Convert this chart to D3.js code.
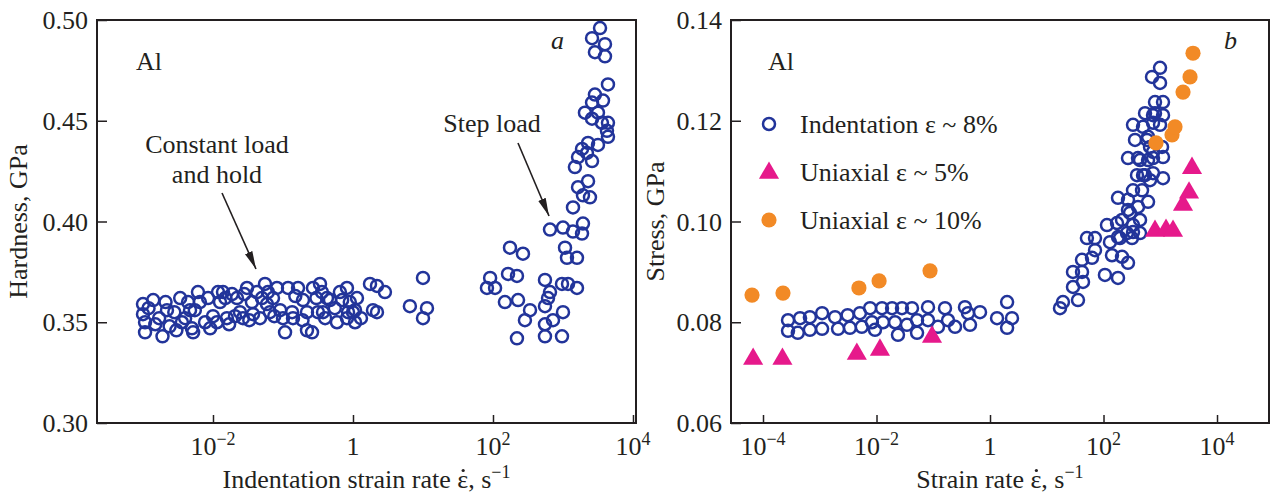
<!DOCTYPE html>
<html>
<head>
<meta charset="utf-8">
<script src="https://cdn.jsdelivr.net/npm/d3@7"></script>
<style>
  html, body { margin: 0; padding: 0; background: #fff; }
  svg { display: block; }
  text { font-family: "Liberation Serif", "Times New Roman", serif; fill: #231f20; }
</style>
</head>
<body>
<svg id="chart" width="1271" height="493"></svg>
<script>
// ---- Panel a: hardness of Al vs indentation strain rate ----
const constantLoad = [
  [1.0e-3,0.359],[1.0e-3,0.354],[1.07e-3,0.350],[1.07e-3,0.345],[1.2e-3,0.357],[1.4e-3,0.361],
  [1.5e-3,0.349],[1.7e-3,0.352],[1.9e-3,0.343],[2.1e-3,0.360],[2.2e-3,0.356],[2.4e-3,0.348],
  [2.8e-3,0.355],[3.0e-3,0.346],[3.4e-3,0.362],[3.6e-3,0.350],[4.0e-3,0.352],[4.4e-3,0.360],
  [4.7e-3,0.356],[5.0e-3,0.347],[5.2e-3,0.345],[5.5e-3,0.356],[6.1e-3,0.365],[6.5e-3,0.360],
  [7.7e-3,0.350],[8.5e-3,0.362],[9.1e-3,0.347],[0.010,0.353],[0.0114,0.350],[0.0118,0.365],
  [0.0126,0.360],[0.0139,0.365],[0.015,0.362],[0.0158,0.352],[0.017,0.349],[0.0187,0.364],
  [0.0206,0.353],[0.022,0.362],[0.0243,0.355],[0.0268,0.352],[0.028,0.364],[0.0306,0.367],
  [0.033,0.351],[0.036,0.360],[0.0373,0.354],[0.0425,0.365],[0.0469,0.352],[0.05,0.362],
  [0.0553,0.369],[0.059,0.359],[0.061,0.365],[0.065,0.355],[0.072,0.362],[0.075,0.353],
  [0.082,0.367],[0.091,0.356],[0.1,0.352],[0.107,0.345],[0.118,0.367],[0.135,0.355],
  [0.139,0.352],[0.15,0.363],[0.164,0.367],[0.19,0.351],[0.193,0.361],[0.22,0.355],
  [0.22,0.346],[0.26,0.345],[0.268,0.367],[0.3,0.362],[0.316,0.355],[0.338,0.369],
  [0.36,0.365],[0.373,0.355],[0.4,0.352],[0.425,0.362],[0.469,0.361],[0.55,0.357],
  [0.59,0.350],[0.65,0.365],[0.70,0.361],[0.82,0.367],[0.82,0.352],[0.85,0.355],
  [0.9,0.360],[1.0,0.355],[1.07,0.350],[1.07,0.356],[1.14,0.362],[1.3,0.352],
  [1.75,0.369],[1.93,0.356],[2.2,0.368],[2.2,0.355],[2.86,0.365],[6.5,0.358],
  [10,0.372],[10,0.352],[11.4,0.357]
];
const stepLoad = [
  [82,0.367],[91,0.372],[107,0.367],[148,0.360],[164,0.374],[175,0.387],[220,0.373],
  [228,0.361],[268,0.384],[286,0.351],[338,0.356],[220,0.342],[553,0.371],[652,0.365],
  [553,0.358],[968,0.369],[1000,0.355],[720,0.351],[553,0.349],[553,0.343],[968,0.343],
  [611,0.362],[652,0.396],[1000,0.397],[1069,0.387],[1140,0.382],[1585,0.382],[1180,0.369],
  [1585,0.367],[1930,0.399],[1390,0.395],[1870,0.394],[1390,0.407],[1930,0.413],[2430,0.412],
  [1640,0.417],[2280,0.420],[1480,0.427],[2600,0.430],[1640,0.432],[2200,0.434],[1870,0.436],
  [3160,0.438],[2280,0.439],[4390,0.442],[4250,0.445],[3600,0.449],[4390,0.449],[2600,0.451],
  [2060,0.454],[3160,0.454],[2600,0.459],[3730,0.460],[2860,0.463],[4390,0.468],[3980,0.482],
  [2860,0.484],[3980,0.488],[2600,0.491],[3380,0.496]
];
const hardnessTicks = [0.30, 0.35, 0.40, 0.45, 0.50];
const rateTicksA = [1e-2, 1, 1e2, 1e4];

// ---- Panel b: flow stress of Al vs strain rate ----
const indentation8 = [
  [2.76e-4,0.0804],[2.76e-4,0.0783],[4.5e-4,0.0808],[4.1e-4,0.0779],[6.7e-4,0.0810],[6.7e-4,0.0785],
  [1.1e-3,0.0818],[1.1e-3,0.0787],[1.86e-3,0.0810],[2.1e-3,0.0787],[3.1e-3,0.0814],[3.4e-3,0.0789],
  [5.1e-3,0.0818],[5.5e-3,0.0791],[7.7e-3,0.0828],[8.3e-3,0.0800],[9.4e-3,0.0785],[0.0125,0.0828],
  [0.013,0.0800],[0.0188,0.0828],[0.0212,0.0800],[0.0239,0.0775],[0.0281,0.0828],[0.0344,0.0795],
  [0.0422,0.0828],[0.0518,0.0804],[0.0518,0.0779],[0.0808,0.0830],[0.0808,0.0804],[0.121,0.0791],
  [0.161,0.0828],[0.182,0.0804],[0.242,0.0791],[0.362,0.0830],[0.41,0.0818],[0.444,0.0795],
  [0.667,0.0820],[1.33,0.0808],[2.0,0.0840],[2.44,0.0808],[2.0,0.0789],
  [17.1,0.0828],[19.3,0.0840],[35.5,0.0844],[29,0.0870],[29,0.0900],[41.8,0.0900],[43.5,0.0880],
  [41.8,0.0924],[62.7,0.0928],[51,0.0967],[70.8,0.0943],[70.8,0.0967],[106,0.0894],[180,0.0888],
  [115,0.0993],[130,0.0959],[141,0.0933],[212,0.0930],[270,0.0918],[180,0.0969],[195,0.0967],
  [173,0.0997],[212,0.1003],[293,0.1017],[180,0.1047],[270,0.1023],[270,0.1043],[331,0.0993],
  [259,0.0977],[331,0.0979],[318,0.0967],[440,0.0977],[440,0.1003],[405,0.1029],[609,0.1039],
  [331,0.1062],[477,0.1062],[389,0.1092],[497,0.1092],[539,0.1092],[745,0.1096],[660,0.1082],
  [1118,0.1086],[270,0.1126],[405,0.1126],[440,0.1122],[609,0.1122],[745,0.1126],[1118,0.1128],
  [745,0.1138],[660,0.1148],[1074,0.1148],[359,0.1162],[585,0.1162],[609,0.1168],[331,0.1192],
  [497,0.1188],[745,0.1196],[990,0.1192],[539,0.1215],[745,0.1211],[808,0.1215],[1118,0.1211],
  [808,0.1237],[1118,0.1237],[990,0.1275],[716,0.1287],[990,0.1305]
];
const uniaxial5 = [
  [6.7e-5,0.0727],[2.2e-4,0.0727],[4.5e-3,0.0737],[0.0115,0.0745],[0.095,0.0771],
  [808,0.0981],[1263,0.0983],[1678,0.0981],[2517,0.1033],[3213,0.1057],[3625,0.1106]
];
const uniaxial10 = [
  [6.4e-5,0.0854],[2.25e-4,0.0858],[4.9e-3,0.0868],[0.0111,0.0882],[0.0877,0.0902],
  [841,0.1156],[1611,0.1172],[1820,0.1188],[2517,0.1257],[3345,0.1287],[3775,0.1334]
];
const stressTicks = [0.06, 0.08, 0.10, 0.12, 0.14];
const rateTicksB = [1e-4, 1e-2, 1, 1e2, 1e4];
const legendLabels = ["Indentation \u03b5 ~ 8%", "Uniaxial \u03b5 ~ 5%", "Uniaxial \u03b5 ~ 10%"];

const NAVY = "#22349a", PINK = "#e6198b", ORANGE = "#f28a26", INK = "#231f20";
const FS = 26, SUP = 18;
const svg = d3.select("#chart");

// panel geometry (yTitle = distance from frame to the rotated title's baseline)
const A = { left: 97, right: 636, top: 20, bottom: 423, yTitle: 70 };
const B = { left: 731, right: 1269, top: 20, bottom: 423, yTitle: 67 };

const xA = d3.scaleLog().domain([Math.pow(10, -3.657), Math.pow(10, 4.043)]).range([A.left, A.right]);
const yA = d3.scaleLinear().domain([0.30, 0.50]).range([A.bottom, A.top]);
const xB = d3.scaleLog().domain([Math.pow(10, -4.564), Math.pow(10, 4.916)]).range([B.left, B.right]);
const yB = d3.scaleLinear().domain([0.06, 0.14]).range([B.bottom, B.top]);

function powerLabel(sel, v) {
  const e = Math.round(Math.log10(v));
  if (e === 0) { sel.text("1"); return; }
  sel.append("tspan").text("10");
  sel.append("tspan").attr("dy", -10).attr("font-size", SUP)
    .text((e < 0 ? "\u2212" : "") + Math.abs(e));
}

// axis title "<lead> ε, s⁻¹" plus the rate dot placed over the epsilon
function rateTitle(g, cx, y, lead) {
  const t = g.append("text").attr("x", cx).attr("y", y)
    .attr("text-anchor", "middle").attr("font-size", FS);
  t.append("tspan").text(lead + "\u03b5, s");
  t.append("tspan").attr("dy", -10).attr("font-size", SUP).text("\u22121");
  const eps = t.node().getExtentOfChar(lead.length);
  g.append("circle")
    .attr("cx", eps.x + eps.width / 2 + 0.5).attr("cy", y - 17.5).attr("r", 1.6)
    .attr("fill", INK);
}

function drawFrame(P, x, y, xTicks, yTicks, xLead, yTitle) {
  const g = svg.append("g");
  // inward ticks on left and bottom
  g.append("g").attr("transform", `translate(0,${P.bottom})`)
    .call(d3.axisBottom(x).tickValues(xTicks).tickSize(-8).tickFormat(""))
    .call(s => s.select(".domain").remove())
    .call(s => s.selectAll("line").attr("stroke", INK).attr("stroke-width", 1.5));
  g.append("g").attr("transform", `translate(${P.left},0)`)
    .call(d3.axisLeft(y).tickValues(yTicks).tickSize(-10).tickFormat(""))
    .call(s => s.select(".domain").remove())
    .call(s => s.selectAll("line").attr("stroke", INK).attr("stroke-width", 1.5));
  g.append("rect").attr("x", P.left).attr("y", P.top)
    .attr("width", P.right - P.left).attr("height", P.bottom - P.top)
    .attr("fill", "none").attr("stroke", INK).attr("stroke-width", 2);
  // tick labels
  xTicks.forEach(v => {
    g.append("text").attr("x", x(v)).attr("y", P.bottom + 32)
      .attr("text-anchor", "middle").attr("font-size", FS)
      .call(s => powerLabel(s, v));
  });
  yTicks.forEach(v => {
    g.append("text").attr("x", P.left - 9).attr("y", y(v) + 9)
      .attr("text-anchor", "end").attr("font-size", FS)
      .text(d3.format(".2f")(v));
  });
  rateTitle(g, (P.left + P.right) / 2, P.bottom + 65, xLead);
  g.append("text")
    .attr("transform", `translate(${P.left - P.yTitle},${(P.top + P.bottom) / 2}) rotate(-90)`)
    .attr("text-anchor", "middle").attr("font-size", FS).text(yTitle);
}

drawFrame(A, xA, yA, rateTicksA, hardnessTicks, "Indentation strain rate ", "Hardness, GPa");
drawFrame(B, xB, yB, rateTicksB, stressTicks, "Strain rate ", "Stress, GPa");

// open circles
const R_OPEN = 6, W_OPEN = 2.5;
function openCircles(data, x, y) {
  svg.append("g").selectAll("circle").data(data).join("circle")
    .attr("cx", d => x(d[0])).attr("cy", d => y(d[1])).attr("r", R_OPEN)
    .attr("fill", "none").attr("stroke", NAVY).attr("stroke-width", W_OPEN);
}
openCircles(constantLoad, xA, yA);
openCircles(stepLoad, xA, yA);
openCircles(indentation8, xB, yB);

const tri = d3.symbol().type(d3.symbolTriangle).size(175);
svg.append("g").selectAll("path").data(uniaxial5).join("path")
  .attr("transform", d => `translate(${xB(d[0])},${yB(d[1])})`)
  .attr("d", tri).attr("fill", PINK);
svg.append("g").selectAll("circle").data(uniaxial10).join("circle")
  .attr("cx", d => xB(d[0])).attr("cy", d => yB(d[1])).attr("r", 7.6)
  .attr("fill", ORANGE);

// annotations, panel a
svg.append("text").attr("x", 136).attr("y", 70).attr("font-size", FS).text("Al");
svg.append("text").attr("x", 551).attr("y", 49).attr("font-size", FS)
  .attr("font-style", "italic").text("a");
svg.append("text").attr("x", 217).attr("y", 153).attr("text-anchor", "middle")
  .attr("font-size", FS).text("Constant load");
svg.append("text").attr("x", 217).attr("y", 183).attr("text-anchor", "middle")
  .attr("font-size", FS).text("and hold");
svg.append("text").attr("x", 492).attr("y", 132).attr("text-anchor", "middle")
  .attr("font-size", FS).text("Step load");

svg.append("defs").append("marker").attr("id", "head")
  .attr("viewBox", "0 0 18 10").attr("refX", 18).attr("refY", 5)
  .attr("markerWidth", 18).attr("markerHeight", 10).attr("markerUnits", "userSpaceOnUse")
  .attr("orient", "auto")
  .append("path").attr("d", "M0,1 L18,5 L0,9 Z").attr("fill", INK);
function arrow(x1, y1, x2, y2) {
  svg.append("line").attr("x1", x1).attr("y1", y1).attr("x2", x2).attr("y2", y2)
    .attr("stroke", INK).attr("stroke-width", 1.6).attr("marker-end", "url(#head)");
}
arrow(222, 193, 256, 269);
arrow(518, 143, 549, 216);

// annotations and legend, panel b
svg.append("text").attr("x", 768).attr("y", 70).attr("font-size", FS).text("Al");
svg.append("text").attr("x", 1224).attr("y", 49).attr("font-size", FS)
  .attr("font-style", "italic").text("b");
const legendY = [124, 172, 220];
const lg = svg.append("g");
lg.append("circle").attr("cx", 769).attr("cy", legendY[0]).attr("r", R_OPEN)
  .attr("fill", "none").attr("stroke", NAVY).attr("stroke-width", W_OPEN);
lg.append("path").attr("transform", `translate(769,${legendY[1] + 1})`).attr("d", tri).attr("fill", PINK);
lg.append("circle").attr("cx", 769).attr("cy", legendY[2]).attr("r", 7.6).attr("fill", ORANGE);
legendLabels.forEach((t, i) => {
  lg.append("text").attr("x", 800).attr("y", legendY[i] + 9).attr("font-size", FS).text(t);
});
</script>
</body>
</html>
